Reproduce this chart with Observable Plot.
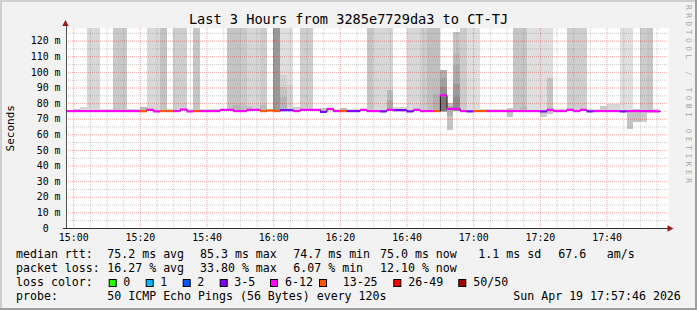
<!DOCTYPE html>
<html><head><meta charset="utf-8">
<script src="https://cdn.jsdelivr.net/npm/d3@7"></script>
<script src="https://cdn.jsdelivr.net/npm/@observablehq/plot@0.6"></script>
<style>
html,body{margin:0;padding:0;background:#f2f2f2;}
#chart{width:697px;height:310px;}
</style></head><body><div id="chart"></div>
<script>
const title = "Last 3 Hours from 3285e7729da3 to CT-TJ";
const yLabel = "Seconds";
const watermark = "RRDTOOL / TOBI OETIKER";
const stepSeconds = 120;
const firstStep = "2026-04-19T14:58:00Z";
const viewStart = "2026-04-19T14:57:50Z";
const viewEnd = "2026-04-19T17:58:26Z";

// median RTT per 2-minute step (ms)
const medianMs = [
 75.2,75.2,75.2,75.2,75.2,75.2,75.2,75.2,75.2,75.2,
 75.2,75.1,76.0,75.0,75.2,75.2,75.2,76.2,75.0,75.2,
 75.2,75.2,75.2,76.0,76.0,75.2,75.2,76.0,76.0,75.2,
 75.6,75.2,75.8,75.8,75.2,76.0,76.0,76.0,74.7,76.6,
 75.2,75.2,75.2,75.2,76.0,75.2,75.2,75.0,76.0,75.8,
 75.8,75.0,76.0,75.2,75.2,75.2,85.3,76.6,76.6,75.2,
 75.0,75.2,75.2,75.2,75.2,75.2,75.2,75.2,75.2,75.2,
 75.2,75.0,76.0,75.2,75.2,76.0,75.2,76.0,75.0,75.2,
 75.2,75.2,75.2,75.0,75.2,75.2,75.2,75.2,75.0];
// lost pings out of 50 per step
const lossCount = [
 8,7,8,9,8,7,8,9,8,7,
 8,14,8,9,15,14,8,9,7,16,
 8,7,8,9,8,8,7,9,8,14,
 17,15,4,5,8,9,8,7,4,10,
 8,14,4,5,8,9,8,4,9,5,
 4,3,8,8,9,14,12,9,10,8,
 4,15,14,8,7,8,8,9,8,7,
 8,4,8,7,8,9,8,8,4,7,
 8,8,8,4,8,7,8,9,6];
// outer smoke extent per step (ms) and its density
const smokeHiMs = [
 75.8,76.5,77.6,130,130,76.0,76.0,130,130,76.5,
 76.0,77.2,130,130,130,76.3,130,130,76.0,130,
 76.0,76.0,76.2,76.4,130,130,130,130,130,130,
 75.8,130,130,130,77.6,130,130,76.4,77.0,77.0,
 76.0,77.0,76.2,76.2,76.4,130,130,130,130,77.8,
 77.8,130,130,130,130,130,101.3,80.0,125.8,130,
 130,130,76.0,76.0,76.5,76.0,76.6,130,130,130,
 130,130,130,76.0,76.0,130,130,130,76.0,76.0,
 78.2,79.5,79.5,130,130,76.2,130,130,76.0];
const smokeLoMs = [
 74.9,74.9,74.9,74.9,74.9,74.9,74.9,74.9,74.9,74.9,
 74.9,74.9,74.9,74.9,74.9,74.9,74.9,74.9,74.9,74.9,
 74.9,74.9,74.9,74.9,74.9,74.9,74.9,74.9,74.9,74.9,
 74.9,74.9,74.9,74.9,74.9,74.9,74.9,74.9,74.9,74.9,
 74.9,74.9,74.9,74.9,74.9,74.9,74.9,74.9,74.9,74.9,
 74.9,74.9,74.9,74.9,74.9,74.9,74.5,63.0,74.9,74.9,
 74.9,74.9,74.9,74.9,74.9,74.9,71.4,74.9,74.9,74.9,
 74.9,74.9,74.9,74.9,74.9,74.9,74.9,74.9,74.9,74.9,
 74.9,74.9,74.9,74.9,74.9,68.2,68.2,73.5,74.9];
const smokeDensity = [
 1,3,1,1,1,1,1,2.5,2.5,2,
 1,4,1,1,3,2,2,2,1,2.8,
 1,1,2,2,3,3,2.5,1.2,1.2,2.2,
 1,7.3,0.3,0.3,2,2,2,1,2.5,2.5,
 1,4,1,1,1,2.8,1.1,1.1,1.1,1.3,
 1.3,1,1,2,3.5,3.5,5,3,3,2.2,
 0.3,0.3,1,1,1,1,3,2.8,2.8,0.3,
 0.3,0.3,0.3,1,1,2,2,2,1,1,
 2.5,1,1,0.3,0.3,3,2.2,2.8,1];
// denser inner smoke bands
const innerStep    = [7,12,24,25,26,27,29,32,32,32,33,48,48,55,55,56,56,56,57,58,58,58,58,68,71,72,84];
const innerLoMs    = [74.9,74.9,74.9,74.9,74.9,74.9,74.9,74.9,74.9,74.9,74.9,74.9,74.9,74.9,74.9,74.7,74.8,75.0,72.0,74.9,74.9,74.9,74.9,74.9,70.8,73.0,63.5];
const innerHiMs    = [77.0,77.0,77.0,78.9,78.0,78.2,78.9,98.0,90.0,84.0,91.7,88.4,82.0,95.0,86.0,96.0,90.0,84.0,78.0,112.0,104.5,92.0,84.0,77.5,74.9,96.3,74.9];
const innerDensity = [3.5,2.5,4,4.5,3.5,3,4,1.5,3,4.5,1.5,4,5.5,3.8,5,6.5,8,10.5,5,4,5.5,7,8.5,4,2,3,3];

const yTicks = [0,10,20,30,40,50,60,70,80,90,100,110,120];
const lossLabels = ["0","1","2","3-5","6-12","13-25","26-49","50/50"];
const lossThresholds = [1,2,3,6,13,26,50];
const lossColors = ["#26ff00","#00b8ff","#0059ff","#7e00ff","#ff00ff","#ff5500","#ff0000","#a10000"];
const rttStats = ["75.2 ms avg","85.3 ms max","74.7 ms min","75.0 ms now","1.1 ms sd","67.6","am/s"];
const lossStats = ["16.27 % avg","33.80 % max","6.07 % min","12.10 % now"];
const probeText = "50 ICMP Echo Pings (56 Bytes) every 120s";
const stampText = "Sun Apr 19 17:57:46 2026";

const t0 = new Date(firstStep);
const steps = medianMs.map((m, i) => ({
  t0: new Date(+t0 + i * stepSeconds * 1000),
  t1: new Date(+t0 + (i + 1) * stepSeconds * 1000),
  median: m, loss: lossCount[i], hi: smokeHiMs[i], lo: smokeLoMs[i], dens: smokeDensity[i]
}));
const inner = innerStep.map((s, k) => ({t0: steps[s].t0, t1: steps[s].t1, lo: innerLoMs[k], hi: innerHiMs[k], dens: innerDensity[k]}));
const last = steps[steps.length - 1];
const lineData = steps.map(d => ({t: d.t0, m: d.median})).concat([{t: last.t1, m: last.median}]);
const bucketOf = l => d3.bisectRight(lossThresholds, l);

const xStart = new Date(viewStart), xEnd = new Date(viewEnd);
const majorX = d3.utcMinute.every(20).range(new Date("2026-04-19T15:00:00Z"), xEnd);
const minorX = d3.utcMinute.every(5).range(new Date("2026-04-19T15:00:00Z"), xEnd).filter(d => d.getUTCMinutes() % 20 !== 0);
const minorY = yTicks.map(v => v + 5);

const mono = "DejaVu Sans Mono";
const gridDash = "1,1";

const medianMarks = lossColors.map((c, b) =>
  Plot.ruleY(steps.filter(d => bucketOf(d.loss) === b), {y: "median", x1: "t0", x2: "t1", stroke: c, strokeWidth: 2.2}));

const chart = Plot.plot({
  width: 697, height: 310,
  marginLeft: 66, marginRight: 29, marginTop: 28, marginBottom: 82,
  style: {fontFamily: mono, fontSize: "9.9px", background: "#f2f2f2", color: "#000", overflow: "visible"},
  x: {type: "utc", domain: [xStart, xEnd]},
  y: {domain: [0, 128.1]},
  color: {type: "linear", domain: [0, 12], range: ["#e2e2e2", "#6a6a6a"], interpolate: "rgb"},
  marks: [
    Plot.frame({fill: "#ffffff", stroke: null}),
    Plot.rect(steps, {x1: "t0", x2: "t1", y1: "lo", y2: "hi", fill: "dens", clip: true, shapeRendering: "crispEdges"}),
    Plot.rect(inner, {x1: "t0", x2: "t1", y1: "lo", y2: "hi", fill: "dens", clip: true, shapeRendering: "crispEdges"}),
    Plot.gridX(minorX, {stroke: "#7f7f7f", strokeOpacity: 0.4, strokeDasharray: gridDash}),
    Plot.gridY(minorY.filter(v => v < 128), {stroke: "#7f7f7f", strokeOpacity: 0.4, strokeDasharray: gridDash}),
    Plot.gridX(majorX, {stroke: "#e00000", strokeOpacity: 0.35, strokeDasharray: gridDash}),
    Plot.gridY(yTicks.filter(v => v > 0), {stroke: "#e00000", strokeOpacity: 0.35, strokeDasharray: gridDash}),
    Plot.line(lineData, {x: "t", y: "m", curve: "step-after", stroke: "#1a1a1a", strokeWidth: 1}),
    ...medianMarks,
    Plot.ruleX([xStart], {y1: () => 0, y2: () => 130.6, stroke: "#505050"}),
    Plot.ruleY([0], {x1: () => new Date(+xStart - 54000), x2: () => new Date(+xEnd + 18000), stroke: "#303030"}),
    Plot.axisY(yTicks, {anchor: "left", tickSize: 0, tickPadding: 6, label: null,
      tickFormat: d => d === 0 ? "0\u00a0\u00a0" : `${d} m`}),
    Plot.axisX(majorX, {anchor: "bottom", tickSize: 0, tickPadding: 5.5, label: null,
      tickFormat: d3.utcFormat("%H:%M")})
  ]
});
document.getElementById("chart").append(chart);

const svg = d3.select(chart);
const xs = chart.scale("x"), ys = chart.scale("y");
const ax = xs.apply(xStart) - 0.5, ay = ys.apply(0) + 0.5;
// axis arrows
svg.append("polygon").attr("fill", "#9a1c1c")
  .attr("points", `${ax - 3.2},26 ${ax + 3.2},26 ${ax},20`);
const ex = xs.apply(xEnd) + 0.5;
svg.append("polygon").attr("fill", "#9a1c1c")
  .attr("points", `${ex - 1},${ay - 3.2} ${ex - 1},${ay + 3.2} ${ex + 5},${ay}`);

// frame shading
svg.append("rect").attr("x", 0).attr("y", 0).attr("width", 697).attr("height", 2).attr("fill", "#cfcfcf");
svg.append("rect").attr("x", 0).attr("y", 0).attr("width", 2).attr("height", 310).attr("fill", "#cfcfcf");
svg.append("rect").attr("x", 0).attr("y", 308).attr("width", 697).attr("height", 2).attr("fill", "#9e9e9e");
svg.append("rect").attr("x", 695).attr("y", 0).attr("width", 2).attr("height", 310).attr("fill", "#9e9e9e");

const txt = (x, y, s, size, extra = {}) => {
  const t = svg.append("text").attr("x", x).attr("y", y).attr("font-family", mono)
    .attr("font-size", size).attr("fill", "#000").attr("text-anchor", "start")
    .attr("xml:space", "preserve").text(s);
  for (const k in extra) t.attr(k, extra[k]);
  return t;
};
txt(348.5, 24, title, 13.6, {"text-anchor": "middle"});
txt(0, 0, yLabel, 11, {"text-anchor": "middle", transform: "translate(14,128.3) rotate(-90)"});
txt(0, 0, watermark, 7.8, {fill: "#a8a8a8", "letter-spacing": 3.55, transform: "translate(685.5,5) rotate(90)"});

const F = 11.6;
const r1 = 258.3, r2 = 272.3, r3 = 286.3, r4 = 300.3;
txt(16, r1, "median rtt:", F);
[107.3, 200, 293.3, 380, 478.3, 558.3, 606.7].forEach((x, i) => txt(x, r1, rttStats[i], F));
txt(16, r2, "packet loss:", F);
[107.3, 200, 293.3, 380].forEach((x, i) => txt(x, r2, lossStats[i], F));
txt(16, r3, "loss color:", F);
const boxX = [108.7, 145.7, 182.7, 219.7, 270, 319, 393.3, 458.3];
const labX = [123.3, 160.3, 197.3, 234.3, 285, 342.7, 408.3, 473.3];
lossColors.forEach((c, i) => {
  svg.append("rect").attr("x", boxX[i] + 0.5).attr("y", 279.5).attr("width", 7).attr("height", 7)
    .attr("fill", c).attr("stroke", "#000").attr("stroke-width", 1);
  txt(labX[i], r3, lossLabels[i], F);
});
txt(16, r4, "probe:", F);
txt(107.3, r4, probeText, F);
txt(513.3, r4, stampText, F);
</script></body></html>
